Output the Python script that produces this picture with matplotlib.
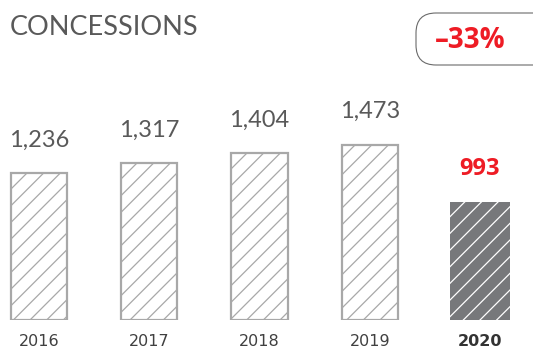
import matplotlib
matplotlib.use("Agg")
import matplotlib.pyplot as plt
from matplotlib.patches import FancyBboxPatch

# data
years = ["2016", "2017", "2018", "2019", "2020"]
values = [1236, 1317, 1404, 1473, 993]
labels = ["1,236", "1,317", "1,404", "1,473", "993"]
change_label = "\u201333%"
title = "CONCESSIONS"

RED = "#ee1c25"
GREY_TXT = "#595959"
GREY_EDGE = "#a8a8a8"
DARK = "#77787b"

plt.rcParams["hatch.linewidth"] = 0.9

W, H = 533, 347
fig = plt.figure(figsize=(W / 100, H / 100), dpi=100)

# main bar axes: baseline at pixel row 320
base_px = 320
ax = fig.add_axes([0, (H - base_px) / H, 1, base_px / H])
px_per_unit = 0.119
step = 110.25
ax.set_xlim(-39 / step, 4 + (W - 480) / step)
ax.set_ylim(0, base_px / px_per_unit)
ax.axis("off")

for i, (yr, v, lab) in enumerate(zip(years, values, labels)):
    last = i == len(years) - 1
    if last:
        ax.bar(i, v, width=0.545, color=DARK, edgecolor="white",
               linewidth=0, hatch="//")
        ax.annotate(lab, (i, v), xytext=(0, 33), textcoords="offset pixels",
                    ha="center", va="center", fontsize=17, fontweight="bold",
                    color=RED, family="Open Sans")
        ax.annotate(yr, (i, 0), xytext=(0, -21), textcoords="offset pixels",
                    ha="center", va="center", fontsize=11.5, fontweight="bold",
                    color="#333333", family="DejaVu Sans")
    else:
        ax.bar(i, v, width=0.51, color="white", edgecolor=GREY_EDGE,
               linewidth=1.6, hatch="//")
        ax.annotate(lab, (i, v), xytext=(0, 33), textcoords="offset pixels",
                    ha="center", va="center", fontsize=17,
                    color=GREY_TXT, family="Lato")
        ax.annotate(yr, (i, 0), xytext=(0, -21), textcoords="offset pixels",
                    ha="center", va="center", fontsize=11.5,
                    color="#404040", family="DejaVu Sans")

# overlay in pixel coordinates for title and badge
ov = fig.add_axes([0, 0, 1, 1], zorder=5)
ov.set_xlim(0, W)
ov.set_ylim(H, 0)
ov.axis("off")
ov.patch.set_alpha(0)

ov.text(10, 27, title, ha="left", va="center", fontsize=19.5,
        color=GREY_TXT, family="Lato")

badge = FancyBboxPatch((416, 13), 150, 52,
                       boxstyle="round,pad=0,rounding_size=20",
                       facecolor="white", edgecolor="#6a6a6a", linewidth=0.8,
                       clip_on=False)
ov.add_patch(badge)
ov.text(470, 40, change_label, ha="center", va="center", fontsize=20,
        fontweight="bold", color=RED, family="Open Sans")

fig.savefig("out.png", dpi=100)
